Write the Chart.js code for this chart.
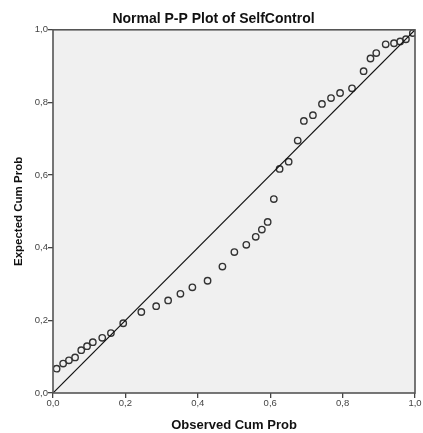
<!DOCTYPE html>
<html>
<head>
<meta charset="utf-8">
<script src="https://cdn.jsdelivr.net/npm/chart.js@4"></script>
<style>
  html, body { margin: 0; padding: 0; background: #fff; }
  #wrap { width: 423px; height: 433px; }
</style>
</head>
<body>
<div id="wrap"><canvas id="ppChart" width="423" height="433"></canvas></div>
<script>
// Observed vs expected cumulative probabilities
const observed = [0.010, 0.028, 0.044, 0.061, 0.078, 0.094, 0.110, 0.136, 0.160, 0.194,
    0.244, 0.285, 0.318, 0.352, 0.385, 0.427, 0.468, 0.501, 0.534, 0.560,
    0.577, 0.593, 0.610, 0.626, 0.651, 0.676, 0.693, 0.718, 0.743, 0.768,
    0.793, 0.826, 0.858, 0.877, 0.893, 0.919, 0.942, 0.959, 0.975, 0.994];
const expected = [0.067, 0.081, 0.090, 0.098, 0.118, 0.129, 0.140, 0.152, 0.165, 0.192,
    0.223, 0.239, 0.255, 0.273, 0.291, 0.309, 0.348, 0.388, 0.408, 0.430,
    0.450, 0.471, 0.534, 0.617, 0.637, 0.695, 0.749, 0.765, 0.796, 0.812,
    0.826, 0.839, 0.886, 0.921, 0.936, 0.960, 0.963, 0.968, 0.974, 0.991];
const refLine = [0, 1];
const tickValues = [0, 0.2, 0.4, 0.6, 0.8, 1.0];

const points = observed.map((x, i) => ({ x: x, y: expected[i] }));
const diagonal = refLine.map(v => ({ x: v, y: v }));

const fmt = v => v.toFixed(1).replace('.', ',');

// grey plot background and frame round the chart area
const plotFrame = {
    id: 'plotFrame',
    beforeDraw(chart) {
        const a = chart.chartArea, c = chart.ctx;
        c.save();
        c.fillStyle = '#f0f0f0';
        c.fillRect(a.left, a.top, a.right - a.left, a.bottom - a.top);
        c.restore();
    },
    afterDraw(chart) {
        const a = chart.chartArea, c = chart.ctx;
        c.save();
        c.strokeStyle = '#555';
        c.lineWidth = 1.6;
        c.strokeRect(a.left, a.top, a.right - a.left, a.bottom - a.top);
        c.restore();
    }
};

const axisOpts = (title, size, fit) => ({
    type: 'linear',
    min: 0,
    max: 1,
    afterBuildTicks: s => { s.ticks = tickValues.map(v => ({ value: v })); },
    afterFit: fit,
    grid: { drawOnChartArea: false, drawTicks: true, tickLength: 5, color: '#444', lineWidth: 1.3 },
    border: { display: false },
    ticks: {
        callback: fmt,
        color: '#444',
        font: { family: 'Arial, "Liberation Sans", sans-serif', size: 9.5 },
        padding: 0,
        maxRotation: 0
    },
    title: {
        display: true,
        text: title,
        color: '#111',
        font: { family: 'Arial, "Liberation Sans", sans-serif', size: size, weight: 'bold' },
        padding: 0
    }
});

new Chart(document.getElementById('ppChart').getContext('2d'), {
    data: {
        datasets: [
            {
                type: 'line',
                data: diagonal,
                borderColor: '#111',
                borderWidth: 1.2,
                pointRadius: 0,
                fill: false
            },
            {
                type: 'scatter',
                data: points,
                pointStyle: 'circle',
                pointRadius: 3.2,
                pointBorderWidth: 1.4,
                pointBorderColor: '#333',
                pointBackgroundColor: 'rgba(0,0,0,0)'
            }
        ]
    },
    options: {
        responsive: false,
        animation: false,
        layout: { padding: { left: 12, right: 8, top: 0, bottom: 0 } },
        plugins: {
            legend: { display: false },
            tooltip: { enabled: false },
            title: {
                display: true,
                text: 'Normal P-P Plot of SelfControl',
                color: '#111',
                font: { family: 'Arial, "Liberation Sans", sans-serif', size: 14, weight: 'bold' },
                padding: { top: 11, bottom: 2 }
            }
        },
        scales: {
            x: axisOpts('Observed Cum Prob', 13, s => { s.height = 40; }),
            y: axisOpts('Expected Cum Prob', 11.5, s => { s.width = 41; })
        }
    },
    plugins: [plotFrame]
});
</script>
</body>
</html>
